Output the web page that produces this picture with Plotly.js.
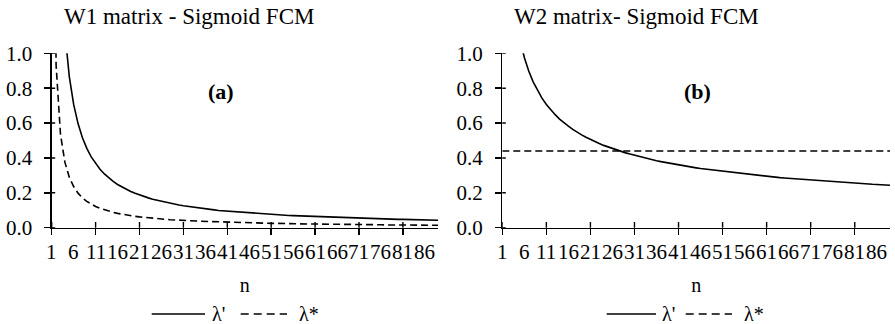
<!DOCTYPE html>
<html>
<head>
<meta charset="utf-8">
<script src="https://cdn.plot.ly/plotly-3.0.1.min.js"></script>
<style>html,body{margin:0;padding:0;background:#fff;}#chart{width:895px;height:324px;}</style>
</head>
<body>
<div id="chart"></div>
<script>
// ---- data ----
const n = [];
for (let i = 1; i <= 89; i++) n.push(i);

const tickLabels = ['1','6','11','16','21','26','31','36','41','46','51','56','61','66','71','76','81','86'];
const tickLabelPos = [1,6,11,16,21,26,31,36,41,46,51,56,61,66,71,76,81,86];
const tickMarkPos = [1,11,21,31,41,51,61,71,81];
const yTicks = [0,0.2,0.4,0.6,0.8,1.0];
const yTickText = ['0.0','0.2','0.4','0.6','0.8','1.0'];

// W1 matrix: lambda' (solid) and lambda* (dashed)
const w1LambdaPrime = [9.5,2.729,1.592,1.124,0.868,0.707,0.597,0.516,0.455,0.406,
 0.367,0.335,0.308,0.285,0.265,0.248,0.233,0.220,0.208,0.197,
 0.187,0.179,0.171,0.163,0.157,0.150,0.145,0.139,0.135,0.130,
 0.126,0.122,0.118,0.114,0.111,0.108,0.105,0.102,0.099,0.097,
 0.095,0.092,0.090,0.088,0.086,0.084,0.082,0.081,0.079,0.077,
 0.076,0.074,0.073,0.072,0.070,0.069,0.068,0.067,0.065,0.064,
 0.063,0.062,0.061,0.060,0.059,0.058,0.058,0.057,0.056,0.055,
 0.054,0.054,0.053,0.052,0.051,0.051,0.050,0.049,0.049,0.048,
 0.048,0.047,0.046,0.046,0.045,0.045,0.044,0.044,0.043];
const w1LambdaStar = [3.6,0.933,0.536,0.376,0.290,0.236,0.198,0.171,0.151,0.135,
 0.122,0.111,0.102,0.094,0.088,0.082,0.077,0.073,0.069,0.065,
 0.062,0.059,0.056,0.054,0.052,0.050,0.048,0.046,0.044,0.043,
 0.042,0.040,0.039,0.038,0.037,0.036,0.035,0.034,0.033,0.032,
 0.031,0.030,0.030,0.029,0.028,0.028,0.027,0.027,0.026,0.026,
 0.025,0.025,0.024,0.024,0.023,0.023,0.022,0.022,0.022,0.021,
 0.021,0.021,0.020,0.020,0.020,0.019,0.019,0.019,0.018,0.018,
 0.018,0.018,0.017,0.017,0.017,0.017,0.016,0.016,0.016,0.016,
 0.016,0.015,0.015,0.015,0.015,0.015,0.015,0.014,0.014];

// W2 matrix: lambda' (solid) and lambda* (dashed, constant)
const w2LambdaPrime = [3.239,1.870,1.448,1.224,1.080,0.976,0.898,0.836,0.785,0.743,
 0.707,0.675,0.648,0.623,0.601,0.582,0.564,0.547,0.532,0.519,
 0.506,0.494,0.483,0.472,0.463,0.453,0.445,0.437,0.429,0.422,
 0.415,0.408,0.402,0.396,0.390,0.384,0.379,0.374,0.369,0.364,
 0.360,0.355,0.351,0.347,0.343,0.339,0.336,0.332,0.329,0.325,
 0.322,0.319,0.316,0.313,0.310,0.307,0.305,0.302,0.299,0.297,
 0.294,0.292,0.290,0.287,0.285,0.283,0.281,0.279,0.277,0.275,
 0.273,0.271,0.269,0.267,0.265,0.264,0.262,0.260,0.258,0.257,
 0.255,0.254,0.252,0.251,0.249,0.248,0.246,0.245,0.243];
const w2LambdaStar = [0.44,0.44,0.44,0.44,0.44,0.44,0.44,0.44,0.44,0.44,
 0.44,0.44,0.44,0.44,0.44,0.44,0.44,0.44,0.44,0.44,
 0.44,0.44,0.44,0.44,0.44,0.44,0.44,0.44,0.44,0.44,
 0.44,0.44,0.44,0.44,0.44,0.44,0.44,0.44,0.44,0.44,
 0.44,0.44,0.44,0.44,0.44,0.44,0.44,0.44,0.44,0.44,
 0.44,0.44,0.44,0.44,0.44,0.44,0.44,0.44,0.44,0.44,
 0.44,0.44,0.44,0.44,0.44,0.44,0.44,0.44,0.44,0.44,
 0.44,0.44,0.44,0.44,0.44,0.44,0.44,0.44,0.44,0.44,
 0.44,0.44,0.44,0.44,0.44,0.44,0.44,0.44,0.44];

const seriesNames = ["λ'", "λ*"];
const panelTitles = ['W1 matrix - Sigmoid FCM', 'W2 matrix- Sigmoid FCM'];
const panelTags = ['(a)', '(b)'];

// ---- layout helpers ----
const W = 895, H = 324;
const FONT = "'Liberation Serif', 'Times New Roman', serif";
const TICK_SIZE = 21;
const px = v => v / W;
const py = v => 1 - v / H;
const DASH = '7px,4px';
const yDom = [py(227.7), py(53.3)];
const xDomA = [px(51.7), px(438)];
const xDomB = [px(502.3), px(890)];

function mainX(dom, anchor) {
  return {domain: dom, anchor: anchor, range: [1, 89], type: 'linear',
    tickmode: 'array', tickvals: tickMarkPos, ticks: 'outside', ticklen: 6, tickwidth: 1.4,
    tickcolor: '#000', showticklabels: false, showline: true, linecolor: '#000', linewidth: 1.3,
    showgrid: false, zeroline: false, automargin: false,
    title: {text: 'n', font: {family: FONT, size: 20, color: '#000'}, standoff: 44}};
}
function mainY(anchor) {
  return {domain: yDom, anchor: anchor, range: [0, 1], tickmode: 'array',
    tickvals: yTicks, ticktext: yTickText, ticks: 'outside', ticklen: 6, tickwidth: 1.4,
    tickcolor: '#000', ticklabelstandoff: 8, showline: true, linecolor: '#000', linewidth: 1.3,
    showgrid: false, zeroline: false, automargin: false,
    tickfont: {family: FONT, size: TICK_SIZE, color: '#000'}};
}

const lineStyle = (dash) => ({color: '#000', width: 1.6, dash: dash});
const traces = [
  {x: n, y: w1LambdaPrime, xaxis: 'x', yaxis: 'y', mode: 'lines', name: seriesNames[0], line: lineStyle('solid')},
  {x: n, y: w1LambdaStar, xaxis: 'x', yaxis: 'y', mode: 'lines', name: seriesNames[1], line: lineStyle(DASH)},
  {x: n, y: w2LambdaPrime, xaxis: 'x2', yaxis: 'y2', mode: 'lines', name: seriesNames[0], line: lineStyle('solid')},
  {x: n, y: w2LambdaStar, xaxis: 'x2', yaxis: 'y2', mode: 'lines', name: seriesNames[1], line: lineStyle(DASH)}
];

const shapes = [];
const annotations = [];
const tickLine = {color: '#000', width: 1.4};
[['x', 'y'], ['x2', 'y2']].forEach(([xa, ya], i) => {
  // inner half of the crossing tick marks on the category axis
  tickMarkPos.forEach(v => shapes.push({type: 'line', xref: xa, yref: 'paper', x0: v, x1: v,
    y0: py(227.7), y1: py(222), line: tickLine, layer: 'above'}));
  // inner half of the y tick marks
  const axisX = i === 0 ? 51.7 : 502.3;
  yTicks.forEach(v => shapes.push({type: 'line', xref: 'paper', yref: ya, x0: px(axisX), x1: px(axisX + 3.5),
    y0: v, y1: v, line: tickLine, layer: 'above'}));
  // category labels every 5th category
  tickLabelPos.forEach((v, k) => annotations.push({xref: xa, yref: 'paper', x: v, y: py(252),
    xanchor: 'center', yanchor: 'middle', showarrow: false, text: tickLabels[k],
    font: {family: FONT, size: TICK_SIZE, color: '#000'}}));
});

// custom legends (longer sample lines than Plotly's built-in legend)
const legends = [
  {solid: [151.7, 205], txt1: 210, dash: [240.7, 287], txt2: 297},
  {solid: [606.7, 656], txt1: 660, dash: [685.7, 732], txt2: 742}
];
const legY = py(314);
legends.forEach(l => {
  shapes.push({type: 'line', xref: 'paper', yref: 'paper', x0: px(l.solid[0]), x1: px(l.solid[1]), y0: legY, y1: legY, line: {color: '#000', width: 1.6}});
  shapes.push({type: 'line', xref: 'paper', yref: 'paper', x0: px(l.dash[0]), x1: px(l.dash[1]), y0: legY, y1: legY, line: {color: '#000', width: 1.6, dash: '8px,5px'}});
  annotations.push({xref: 'paper', yref: 'paper', x: px(l.txt1), y: legY, xanchor: 'left', yanchor: 'middle', showarrow: false, text: seriesNames[0], font: {family: FONT, size: 20, color: '#000'}});
  annotations.push({xref: 'paper', yref: 'paper', x: px(l.txt2), y: legY, xanchor: 'left', yanchor: 'middle', showarrow: false, text: seriesNames[1], font: {family: FONT, size: 20, color: '#000'}});
});
annotations.push({xref: 'paper', yref: 'paper', x: px(189), y: py(16), xanchor: 'center', yanchor: 'middle', showarrow: false, text: panelTitles[0], font: {family: FONT, size: 23, color: '#000'}});
annotations.push({xref: 'paper', yref: 'paper', x: px(636), y: py(16), xanchor: 'center', yanchor: 'middle', showarrow: false, text: panelTitles[1], font: {family: FONT, size: 23, color: '#000'}});
annotations.push({xref: 'paper', yref: 'paper', x: px(221), y: py(92), xanchor: 'center', yanchor: 'middle', showarrow: false, text: '<b>' + panelTags[0] + '</b>', font: {family: FONT, size: 22, color: '#000'}});
annotations.push({xref: 'paper', yref: 'paper', x: px(697), y: py(92), xanchor: 'center', yanchor: 'middle', showarrow: false, text: '<b>' + panelTags[1] + '</b>', font: {family: FONT, size: 22, color: '#000'}});

const layout = {
  width: W, height: H, margin: {l: 0, r: 0, t: 0, b: 0},
  paper_bgcolor: '#fff', plot_bgcolor: 'rgba(0,0,0,0)', showlegend: false,
  font: {family: FONT, color: '#000'},
  xaxis: mainX(xDomA, 'y'),
  xaxis2: mainX(xDomB, 'y2'),
  yaxis: mainY('x'),
  yaxis2: mainY('x2'),
  shapes: shapes,
  annotations: annotations
};

Plotly.newPlot('chart', traces, layout, {staticPlot: true, displayModeBar: false});
</script>
</body>
</html>
